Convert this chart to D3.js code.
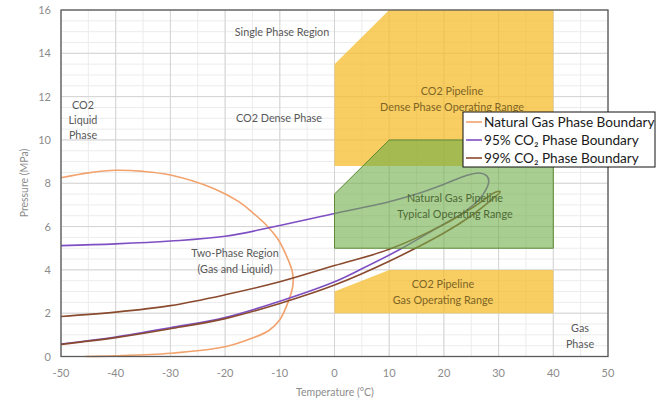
<!DOCTYPE html>
<html><head><meta charset="utf-8">
<script src="https://cdn.jsdelivr.net/npm/d3@7"></script>
<style>
html,body{margin:0;padding:0;background:#fff;}
svg{display:block;}
</style></head>
<body>
<svg id="chart" width="657" height="400"></svg>
<script>
// ---- Data ----
const xTicks = [-50,-40,-30,-20,-10,0,10,20,30,40,50];
const yTicks = [0,2,4,6,8,10,12,14,16];

// Natural gas phase envelope (T °C, P MPa)
const ngT = [-45.5,-40,-30,-20,-15,-12,-10,-8.5,-7.6,-7.7,-8.7,-10.3,-12.4,-15,-17.5,-22,-30,-35,-40,-45,-50];
const ngP = [0,0.03,0.15,0.45,0.85,1.2,1.7,2.5,3.3,3.9,4.6,5.4,6.05,6.65,7.15,7.75,8.38,8.55,8.6,8.48,8.25];

// 95% CO2 phase envelope
const co2_95T = [-50,-40,-30,-20,-10,0,5,12,18,24.2,27.2,28.2,27.8,26.5,24,20,15,10,0,-10,-20,-30,-40,-50];
const co2_95P = [0.58,0.9,1.33,1.8,2.55,3.45,4.05,4.95,5.83,6.76,7.5,8.1,8.35,8.47,8.35,7.95,7.5,7.15,6.6,6.05,5.55,5.33,5.2,5.12];

// 99% CO2 phase envelope
const co2_99T = [-50,-40,-30,-20,-10,0,10,20,25,29,30.3,29.5,26,20,10,0,-10,-20,-30,-40,-50];
const co2_99P = [0.56,0.87,1.28,1.75,2.45,3.3,4.4,5.7,6.5,7.3,7.6,7.6,7.0,6.1,4.95,4.2,3.45,2.85,2.35,2.05,1.85];

// Operating ranges (polygons)
const denseT = [0,10,40,40,0];
const denseP = [13.5,16,16,8.8,8.8];
const ngPipeT = [0,10,40,40,0];
const ngPipeP = [7.5,10,10,5,5];
const gasT = [0,0,10,40,40];
const gasP = [2,3,4,4,2];

const legendLabels = ["Natural Gas Phase Boundary","95% CO\u2082 Phase Boundary","99% CO\u2082 Phase Boundary"];
const seriesColors = ["#F2A26C","#7E4FC2","#8A4A2E"];

// ---- Layout ----
const svg = d3.select("#chart");
const L = 61, R = 608, T = 10, B = 356.5;
const x = d3.scaleLinear().domain([-50,50]).range([L,R]);
const y = d3.scaleLinear().domain([0,16]).range([B,T]);
const font = "Lato, 'Open Sans', sans-serif";

// minor grid
const minorX = d3.range(-50,50.01,5);
const minorY = d3.range(0,16.01,0.5);
svg.append("g").selectAll("line").data(minorY).join("line")
  .attr("x1",L).attr("x2",R).attr("y1",d=>y(d)).attr("y2",d=>y(d))
  .attr("stroke","#ececec").attr("stroke-width",1);
svg.append("g").selectAll("line").data(minorX).join("line")
  .attr("y1",T).attr("y2",B).attr("x1",d=>x(d)).attr("x2",d=>x(d))
  .attr("stroke","#ececec").attr("stroke-width",1);
// major grid
svg.append("g").selectAll("line").data(yTicks).join("line")
  .attr("x1",L).attr("x2",R).attr("y1",d=>y(d)).attr("y2",d=>y(d))
  .attr("stroke","#d4d4d4").attr("stroke-width",1);
svg.append("g").selectAll("line").data(xTicks).join("line")
  .attr("y1",T).attr("y2",B).attr("x1",d=>x(d)).attr("x2",d=>x(d))
  .attr("stroke","#d4d4d4").attr("stroke-width",1);

// curves
const zip = (a,b)=>a.map((v,i)=>[v,b[i]]);
const line = d3.line().x(d=>x(d[0])).y(d=>y(d[1])).curve(d3.curveCatmullRom.alpha(0.5));
const curves = [zip(ngT,ngP), zip(co2_95T,co2_95P), zip(co2_99T,co2_99P)];
svg.append("g").selectAll("path").data(curves).join("path")
  .attr("d",line).attr("fill","none")
  .attr("stroke",(d,i)=>seriesColors[i]).attr("stroke-width",1.6);

// fills
const poly = d3.line().x(d=>x(d[0])).y(d=>y(d[1]));
svg.append("path").attr("d",poly(zip(denseT,denseP))+"Z")
  .attr("fill","#F5BE2E").attr("fill-opacity",0.75);
svg.append("path").attr("d",poly(zip(gasT,gasP))+"Z")
  .attr("fill","#F5BE2E").attr("fill-opacity",0.75);
svg.append("path").attr("d",poly(zip(ngPipeT,ngPipeP))+"Z")
  .attr("fill","#70AD47").attr("fill-opacity",0.6)
  .attr("stroke","#5E8A35").attr("stroke-width",1);

// frame
svg.append("rect").attr("x",L).attr("y",T).attr("width",R-L).attr("height",B-T)
  .attr("fill","none").attr("stroke","#5a5a5a").attr("stroke-width",1.3);

// tick labels
svg.append("g").selectAll("text").data(yTicks).join("text")
  .attr("x",51).attr("y",d=>y(d)+4).attr("text-anchor","end")
  .attr("font-family",font).attr("font-size",11).attr("fill","#8c8c8c").text(d=>d);
svg.append("g").selectAll("text").data(xTicks).join("text")
  .attr("x",d=>x(d)).attr("y",377).attr("text-anchor","middle")
  .attr("font-family",font).attr("font-size",11).attr("fill","#8c8c8c").text(d=>d);

// axis titles
svg.append("text").attr("x",335).attr("y",396).attr("text-anchor","middle")
  .attr("font-family",font).attr("font-size",10.5).attr("fill","#8c8c8c").text("Temperature (\u00B0C)");
svg.append("text").attr("transform","translate(28,183) rotate(-90)").attr("text-anchor","middle")
  .attr("font-family",font).attr("font-size",10.5).attr("fill","#8c8c8c").text("Pressure (MPa)");

// annotations
function note(lines, cx, y0, dy, color){
  const t = svg.append("text").attr("text-anchor","middle")
    .attr("font-family",font).attr("font-size",10.8).attr("fill",color);
  lines.forEach((s,i)=>t.append("tspan").attr("x",cx).attr("y",y0+i*dy).text(s));
}
note(["Single Phase Region"],282,36,0,"#595959");
note(["CO2 Dense Phase"],279,122,0,"#595959");
note(["CO2","Liquid","Phase"],83,109,15,"#595959");
note(["CO2 Pipeline","Dense Phase Operating Range"],452,95,16,"#7E6424");
note(["Natural Gas Pipeline","Typical Operating Range"],455,202,16,"#4E6A37");
note(["Two-Phase Region","(Gas and Liquid)"],235,257,16,"#595959");
note(["CO2 Pipeline","Gas Operating Range"],443,288,16,"#7E6424");
note(["Gas","Phase"],580,332,16,"#595959");

// legend
const lg = svg.append("g");
lg.append("rect").attr("x",463).attr("y",112).attr("width",192).attr("height",55)
  .attr("fill","#fff").attr("stroke","#111").attr("stroke-width",1);
legendLabels.forEach((s,i)=>{
  const cy = 122 + i*18;
  lg.append("line").attr("x1",466).attr("x2",482).attr("y1",cy).attr("y2",cy)
    .attr("stroke",seriesColors[i]).attr("stroke-width",1.6);
  lg.append("text").attr("x",484).attr("y",cy+4.5)
    .attr("font-family",font).attr("font-size",13.6).attr("fill","#1a1a1a").text(s);
});
</script>
</body></html>
